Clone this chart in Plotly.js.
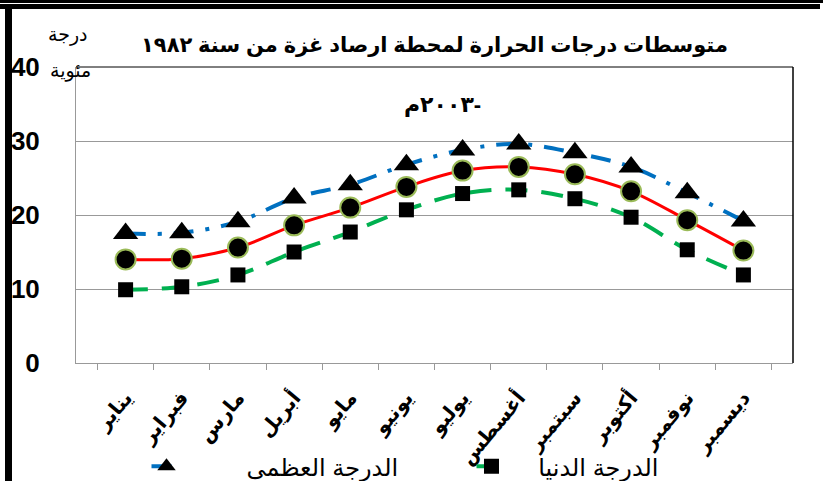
<!DOCTYPE html>
<html>
<head>
<meta charset="utf-8">
<script src="https://cdn.plot.ly/plotly-3.0.1.min.js"></script>
<style>
  html, body { margin: 0; padding: 0; background: #fff; }
  #chart { width: 823px; height: 481px; }
  .frame-top1 { position: absolute; left: 0; top: 0; width: 823px; height: 3px; background: #000; }
  .frame-top2 { position: absolute; left: 0; top: 4px; width: 820px; height: 5px; background: #000; }
  .frame-left { position: absolute; left: 5px; top: 9px; width: 7px; height: 472px; background: #000; }
</style>
</head>
<body>
<div id="chart"></div>
<div class="frame-top1"></div>
<div class="frame-top2"></div>
<div class="frame-left"></div>
<script>
// Data
const months = ["يناير","فبراير","مارس","أبريل","مايو","يونيو","يوليو","أغسطس","سبتمبر","أكتوبر","نوفمبر","ديسمبر"];
const maxTemp = [17.5, 17.6, 19.1, 22.3, 24.1, 26.8, 28.8, 29.6, 28.4, 26.5, 23.0, 19.2];
const avgTemp = [14.0, 14.1, 15.6, 18.6, 21.0, 23.8, 26.0, 26.5, 25.5, 23.2, 19.3, 15.2];
const minTemp = [9.9, 10.3, 11.9, 15.0, 17.7, 20.7, 22.9, 23.4, 22.2, 19.7, 15.3, 11.9];
const yTicks = [0, 10, 20, 30, 40];
const titleLine1 = "متوسطات درجات الحرارة لمحطة ارصاد غزة من سنة ١٩٨٢";
const titleLine2 = "\u202Dم٢٠٠٣-\u202C";
const yTitle1 = "درجة";
const yTitle2 = "مئوية";
const nameMax = "الدرجة العظمى";
const nameMin = "الدرجة الدنيا";
const nameAvg = "المتوسط";

const pad1 = "\u00a0".repeat(9);
const pad2 = "\u00a0".repeat(4);
const monthLabels = months.map(m => "<b>\u200E" + m + "\u200E</b>");

const traces = [
  {
    x: months, y: maxTemp, name: pad1 + nameMax, type: "scatter", mode: "lines+markers",
    line: { color: "#0070C0", width: 4, dash: "20px,12px,4px,12px", shape: "spline" },
    marker: { symbol: "triangle-up", size: 22, color: "#000" }
  },
  {
    x: months, y: minTemp, name: pad2 + nameMin, type: "scatter", mode: "lines+markers",
    line: { color: "#00B050", width: 4, dash: "22px,14px", shape: "spline" },
    marker: { symbol: "square", size: 15, color: "#000" }
  },
  {
    x: months, y: avgTemp, name: nameAvg, type: "scatter", mode: "lines+markers", showlegend: false,
    line: { color: "#FF0000", width: 3, shape: "spline" },
    marker: { symbol: "circle", size: 20, color: "#000", line: { color: "#9BBB59", width: 2 } }
  }
];

const layout = {
  width: 823, height: 481,
  margin: { l: 76, r: 30, t: 67, b: 118 },
  paper_bgcolor: "#fff", plot_bgcolor: "#fff",
  font: { family: "Arial, 'Liberation Sans', 'DejaVu Sans', sans-serif", color: "#000" },
  showlegend: true,
  legend: {
    orientation: "h", xref: "container", yref: "container",
    x: 0.178, y: 0.03, xanchor: "left", yanchor: "middle",
    font: { size: 24, color: "#000" },
    entrywidth: 280, entrywidthmode: "pixels",
    bgcolor: "rgba(0,0,0,0)"
  },
  xaxis: {
    type: "category", categoryorder: "array", categoryarray: months,
    tickmode: "array", tickvals: months, ticktext: monthLabels,
    showgrid: false, showline: true, linecolor: "#999", linewidth: 1,
    ticks: "outside", tickson: "boundaries", ticklen: 6, tickcolor: "#999",
    ticklabelstandoff: 14,
    tickangle: -50, tickfont: { size: 20, color: "#000", family: "'DejaVu Sans', sans-serif" },
    fixedrange: true
  },
  yaxis: {
    range: [0, 40], tickvals: yTicks, ticktext: yTicks.map(String),
    showgrid: true, gridcolor: "#999", gridwidth: 1,
    showline: true, linecolor: "#999", linewidth: 1, zeroline: false,
    ticks: "", ticklabelstandoff: 30,
    tickfont: { size: 26, color: "#000", family: "Arial, 'Liberation Sans', sans-serif", weight: "bold" },
    fixedrange: true
  },
  shapes: [
    { type: "line", xref: "paper", yref: "paper", x0: 0, x1: 1, y0: 1, y1: 1, line: { color: "#000", width: 1 } },
    { type: "line", xref: "paper", yref: "paper", x0: 1, x1: 1, y0: 0, y1: 1, line: { color: "#000", width: 1.5 } }
  ],
  annotations: [
    { text: "<b>" + titleLine1 + "</b>", xref: "paper", yref: "paper", x: (434 - 76) / 717, y: 1 + (67 - 45) / 296,
      xanchor: "center", yanchor: "middle", showarrow: false, font: { size: 21, color: "#000" } },
    { text: "<b>" + titleLine2 + "</b>", xref: "paper", yref: "paper", x: (442 - 76) / 717, y: 1 - (104 - 67) / 296,
      xanchor: "center", yanchor: "middle", showarrow: false, font: { size: 22, color: "#000" } },
    { text: yTitle1, xref: "paper", yref: "paper", x: (68 - 76) / 717, y: 1 + (67 - 35) / 296,
      xanchor: "center", yanchor: "middle", showarrow: false, font: { size: 19, color: "#000" } },
    { text: yTitle2, xref: "paper", yref: "paper", x: (70 - 76) / 717, y: 1 + (67 - 71) / 296,
      xanchor: "center", yanchor: "middle", showarrow: false, font: { size: 19, color: "#000" } }
  ]
};

Plotly.newPlot("chart", traces, layout, { displayModeBar: false, staticPlot: true });
</script>
</body>
</html>
